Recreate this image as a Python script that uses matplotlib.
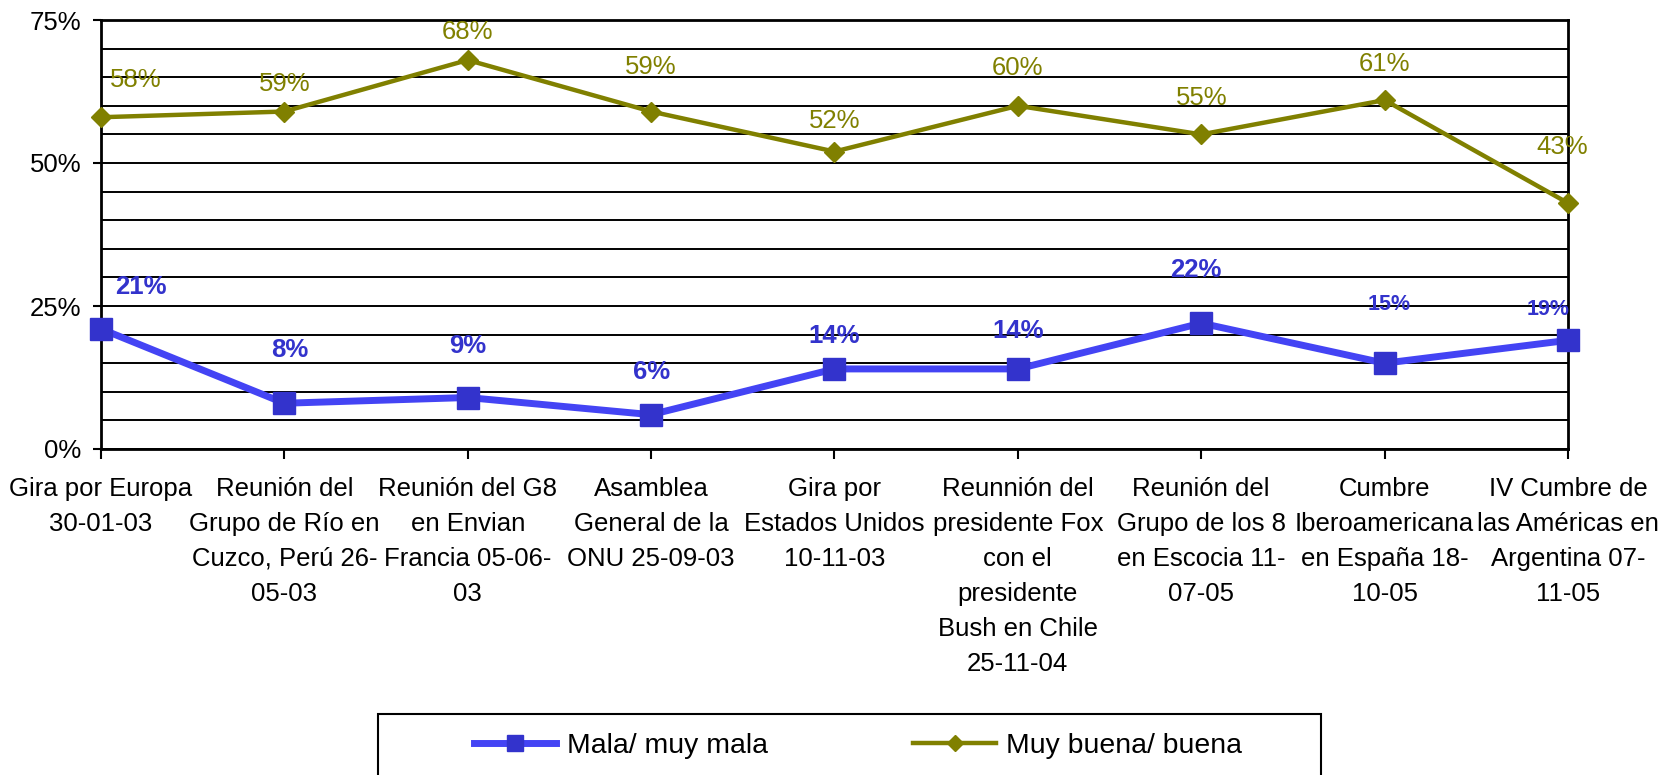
import matplotlib
matplotlib.use("Agg")
import matplotlib.pyplot as plt
from matplotlib.lines import Line2D
from matplotlib.patches import Rectangle
from matplotlib.ticker import FuncFormatter, MultipleLocator

plt.rcParams['font.family'] = ['Liberation Sans', 'DejaVu Sans']

# datos
eventos = [
    "Gira por Europa\n30-01-03",
    "Reunión del\nGrupo de Río en\nCuzco, Perú 26-\n05-03",
    "Reunión del G8\nen Envian\nFrancia 05-06-\n03",
    "Asamblea\nGeneral de la\nONU 25-09-03",
    "Gira por\nEstados Unidos\n10-11-03",
    "Reunnión del\npresidente Fox\ncon el\npresidente\nBush en Chile\n25-11-04",
    "Reunión del\nGrupo de los 8\nen Escocia 11-\n07-05",
    "Cumbre\nIberoamericana\nen España 18-\n10-05",
    "IV Cumbre de\nlas Américas en\nArgentina 07-\n11-05",
]
mala = [21, 8, 9, 6, 14, 14, 22, 15, 19]
buena = [58, 59, 68, 59, 52, 60, 55, 61, 43]
serie_mala = "Mala/ muy mala"
serie_buena = "Muy buena/ buena"

# desplazamiento de las etiquetas (puntos)
off_buena = [(25, 27), (0, 20), (0, 20), (0, 32), (0, 22), (0, 27), (0, 26), (0, 26), (-4, 40)]
off_mala = [(29, 30), (4, 38), (0, 37), (0, 31), (0, 24), (0, 27), (-4, 38), (3, 42), (-14, 22)]
size_mala = [18.5, 18.5, 18.5, 18.5, 18.5, 18.5, 18.5, 15.5, 15.5]

AZUL = "#3333cc"
AZUL_LINEA = "#4444f4"
OLIVA = "#808000"
FS = 18.5

fig = plt.figure(figsize=(16.71, 7.75), dpi=100)
ax = fig.add_axes([101/1671, 1-449/775, (1568-101)/1671, (449-20)/775])

x = list(range(len(eventos)))
ax.plot(x, mala, color=AZUL_LINEA, lw=5, marker='s', ms=16,
        mfc=AZUL, mec=AZUL, zorder=4, clip_on=False)
ax.plot(x, buena, color=OLIVA, lw=3.2, marker='D', ms=10,
        mfc=OLIVA, mec=OLIVA, zorder=4, clip_on=False)

for i in x:
    ax.annotate(f"{buena[i]}%", (i, buena[i]), xytext=off_buena[i],
                textcoords='offset points', ha='center', va='center',
                color=OLIVA, fontsize=FS, zorder=5)
    ax.annotate(f"{mala[i]}%", (i, mala[i]), xytext=off_mala[i],
                textcoords='offset points', ha='center', va='center',
                color=AZUL, fontsize=size_mala[i], fontweight='bold', zorder=5)

ax.set_xlim(0, len(eventos) - 1)
ax.set_ylim(0, 75)
ax.yaxis.set_major_locator(MultipleLocator(25))
ax.yaxis.set_minor_locator(MultipleLocator(5))
ax.yaxis.set_major_formatter(FuncFormatter(lambda v, p: f"{v:.0f}%"))
ax.grid(True, axis='y', which='both', color='black', lw=1.4)
ax.tick_params(axis='y', which='minor', length=0)
ax.tick_params(axis='y', which='major', length=6, width=1.5, labelsize=FS, pad=8)
ax.set_xticks(x)
ax.set_xticklabels(eventos, fontsize=FS, linespacing=1.58)
ax.tick_params(axis='x', length=7, width=1.5, pad=13)
for s in ax.spines.values():
    s.set_linewidth(2)
    s.set_color('black')
ax.set_axisbelow(True)

# leyenda
h1 = Line2D([], [], color=AZUL_LINEA, lw=5, marker='s', ms=11, mfc=AZUL, mec=AZUL)
h2 = Line2D([], [], color=OLIVA, lw=3.2, marker='D', ms=8, mfc=OLIVA, mec=OLIVA)
fig.legend([h1, h2], [serie_mala, serie_buena], loc='center left',
           bbox_to_anchor=(460/1671, 1-746/775), ncol=2, frameon=False,
           fontsize=20.4, handlelength=2.9, handletextpad=0.38,
           columnspacing=5.13, borderpad=0)
fig.add_artist(Rectangle((378/1671, -0.05), (1321-378)/1671, 0.05+1-714/775,
                         transform=fig.transFigure, fill=False,
                         edgecolor='black', lw=1.5))

fig.savefig("out.png", dpi=100)
